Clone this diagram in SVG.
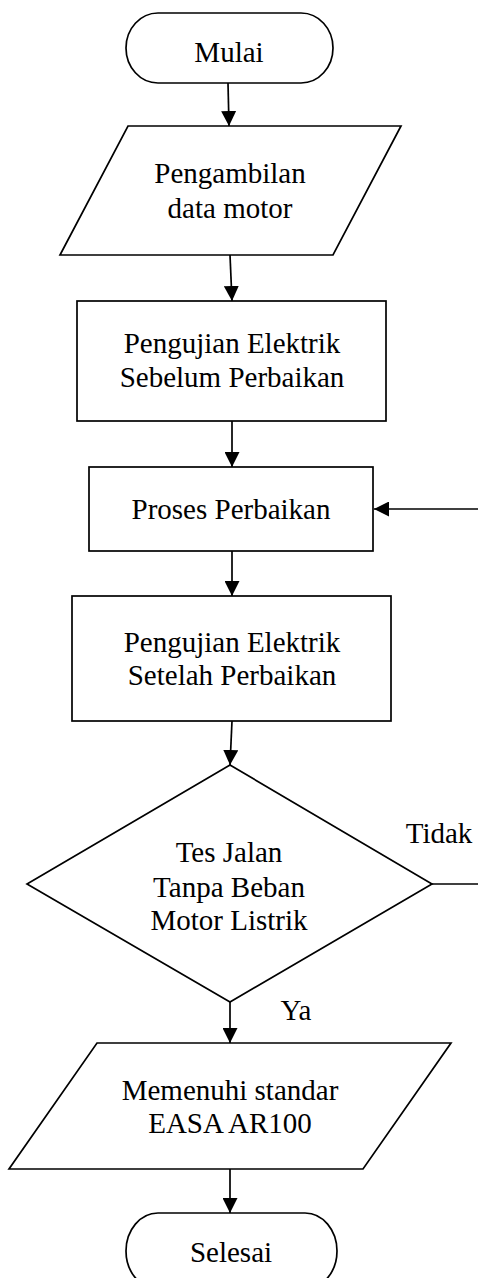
<svg xmlns="http://www.w3.org/2000/svg" width="478" height="1278" viewBox="0 0 478 1278">
<style>
.s{fill:#fff;stroke:#000;stroke-width:1.7}
.t{font-family:"Liberation Serif","Times New Roman",serif;font-size:29px;fill:#000;text-anchor:middle}
.c{stroke:#000;stroke-width:1.7;fill:none}
</style>
<defs>
<marker id="ah" markerUnits="userSpaceOnUse" markerWidth="15" markerHeight="15" refX="15" refY="7.5" orient="auto">
<path d="M0,0 L15,7.5 L0,15 z" fill="#000"/>
</marker>
</defs>
<rect width="478" height="1278" fill="#fff"/>
<g id="connectors">
<line class="c" x1="228" y1="83" x2="229" y2="126" marker-end="url(#ah)"/>
<line class="c" x1="230" y1="255" x2="232" y2="301" marker-end="url(#ah)"/>
<line class="c" x1="232" y1="421" x2="232" y2="467" marker-end="url(#ah)"/>
<line class="c" x1="232" y1="551" x2="232" y2="596" marker-end="url(#ah)"/>
<line class="c" x1="232" y1="721" x2="230" y2="765" marker-end="url(#ah)"/>
<line class="c" x1="230" y1="1002" x2="230" y2="1043" marker-end="url(#ah)"/>
<line class="c" x1="230" y1="1169" x2="230" y2="1213" marker-end="url(#ah)"/>
<line class="c" x1="478" y1="509" x2="374" y2="509" marker-end="url(#ah)"/>
<line class="c" x1="432" y1="884" x2="478" y2="884"/>
<text class="t" x="439" y="843">Tidak</text>
<text class="t" x="296" y="1020">Ya</text>
</g>
<g id="mulai">
<rect class="s" x="126" y="13" width="207" height="70" rx="32" ry="35"/>
<text class="t" x="229" y="62">Mulai</text>
</g>
<g id="pengambilan">
<polygon class="s" points="128,126 401,126 333,255 60,255"/>
<text class="t" x="230" y="183">Pengambilan</text>
<text class="t" x="230" y="218">data motor</text>
</g>
<g id="uji-sebelum">
<rect class="s" x="77" y="301" width="309" height="120"/>
<text class="t" x="232" y="353">Pengujian Elektrik</text>
<text class="t" x="232" y="387">Sebelum Perbaikan</text>
</g>
<g id="proses">
<rect class="s" x="89" y="467" width="284" height="84"/>
<text class="t" x="231" y="519">Proses Perbaikan</text>
</g>
<g id="uji-setelah">
<rect class="s" x="72" y="596" width="319" height="125"/>
<text class="t" x="232" y="652">Pengujian Elektrik</text>
<text class="t" x="232" y="685">Setelah Perbaikan</text>
</g>
<g id="tes-jalan">
<polygon class="s" points="230,765 432,884 230,1002 27,884"/>
<text class="t" x="229" y="862">Tes Jalan</text>
<text class="t" x="229" y="897">Tanpa Beban</text>
<text class="t" x="229" y="930">Motor Listrik</text>
</g>
<g id="memenuhi">
<polygon class="s" points="97,1043 451,1043 363,1169 9,1169"/>
<text class="t" x="230" y="1100">Memenuhi standar</text>
<text class="t" x="230" y="1133">EASA AR100</text>
</g>
<g id="selesai">
<rect class="s" x="126" y="1213" width="211" height="76" rx="32" ry="38"/>
<text class="t" x="231" y="1262">Selesai</text>
</g>
</svg>
